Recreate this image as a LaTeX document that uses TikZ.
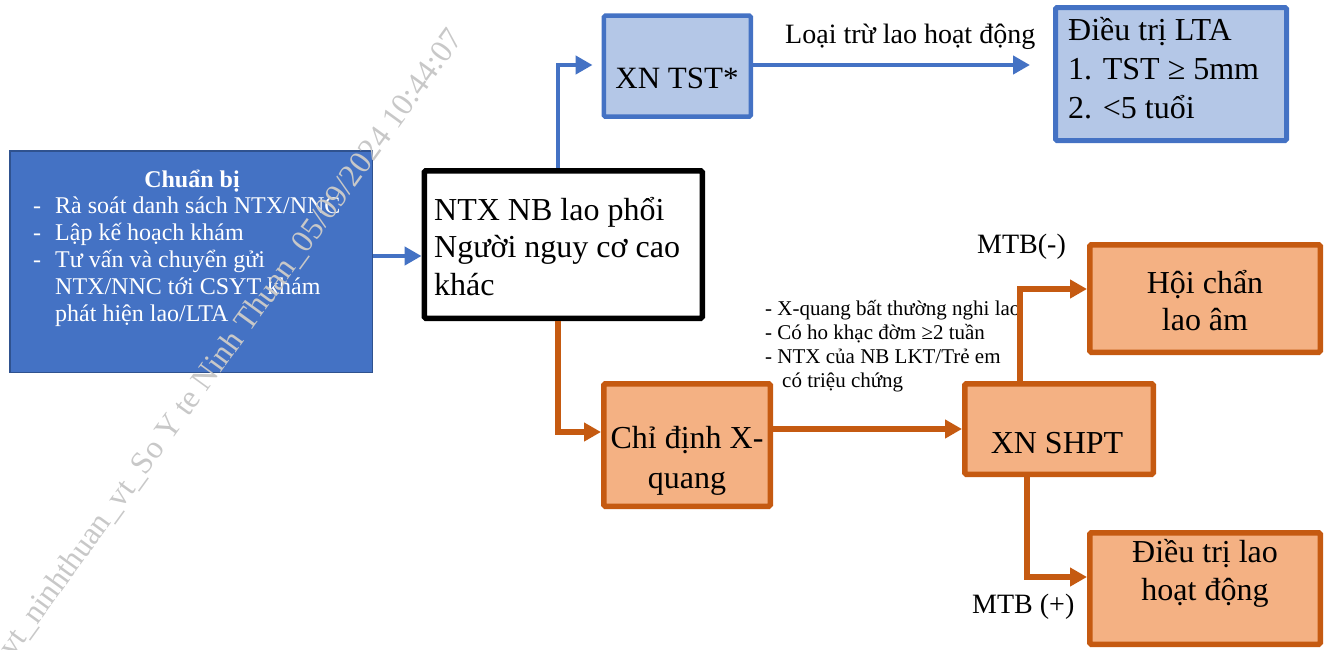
\documentclass[tikz,border=0pt]{standalone}
\usepackage{fontspec}
\setmainfont{Liberation Serif}
\usetikzlibrary{arrows.meta}
\definecolor{cBlue}{HTML}{4472C4}
\definecolor{cBlueDark}{HTML}{2F528F}
\definecolor{cBlueLight}{HTML}{B4C7E7}
\definecolor{cOrange}{HTML}{C55A11}
\definecolor{cOrangeLight}{HTML}{F4B183}
\definecolor{cWater}{HTML}{C8C8C8}
\newcommand{\myfs}[2]{\fontsize{#1}{#2}\selectfont}
\begin{document}
\begin{tikzpicture}[x=1pt,y=-1pt,
  box/.style={rectangle, inner sep=0pt, anchor=center, rounded corners=1.5pt},
  prepbox/.style={box, fill=cBlue, draw=cBlueDark, line width=1.5pt, rounded corners=0pt},
  tstbox/.style={box, fill=cBlueLight, draw=cBlue, line width=4.5pt},
  obox/.style={box, fill=cOrangeLight, draw=cOrange, line width=5.5pt},
  ntxbox/.style={box, fill=white, draw=black, line width=5.5pt},
  txt/.style={inner sep=0pt, anchor=base},
  barrow/.style={draw=cBlue, line width=4.5pt, -{Triangle[length=17pt,width=18pt]}},
  oarrow/.style={draw=cOrange, line width=5.5pt, -{Triangle[length=17pt,width=18pt]}},
  watermark/.style={inner sep=0pt, anchor=base west, rotate=54, text=cWater, font=\myfs{32}{32}}
]
\useasboundingbox (0,0) rectangle (1333,649);

% boxes
\node[prepbox, minimum width=362.5pt, minimum height=221.5pt] (prep) at (191,261.5) {};
\node[ntxbox, minimum width=278pt, minimum height=147.5pt] (ntx) at (563.3,244.5) {};
\node[tstbox, minimum width=147pt, minimum height=101pt] (tst) at (677.3,66.2) {};
\node[tstbox, line width=5pt, minimum width=231pt, minimum height=133pt] (lta) at (1171,74) {};
\node[obox, minimum width=166.5pt, minimum height=122.5pt] (xray) at (687,445) {};
\node[obox, minimum width=188.5pt, minimum height=90.5pt] (shpt) at (1059,429) {};
\node[obox, minimum width=230.5pt, minimum height=107.5pt] (hoichan) at (1205,298.5) {};
\node[obox, minimum width=230.5pt, minimum height=111.5pt] (dtlao) at (1205,588.5) {};

% box texts
\node[txt, text=white, font=\myfs{24}{27}\bfseries] (preptitle) at (192,187) {Chuẩn bị};
\node[txt, anchor=base west, text=white, font=\myfs{24}{27}] (preplist) at (33,213)
  {\begin{tabular}[t]{@{}l@{\hspace{14pt}}l@{}}
   -& Rà soát danh sách NTX/NNC\\
   -& Lập kế hoạch khám\\
   -& Tư vấn và chuyển gửi\\
    & NTX/NNC tới CSYT khám\\
    & phát hiện lao/LTA
   \end{tabular}};
\node[txt, anchor=base west, font=\myfs{32}{37.5}] (ntxt) at (434,220)
  {\begin{tabular}[t]{@{}l@{}}NTX NB lao phổi\\Người nguy cơ cao\\khác\end{tabular}};
\node[txt, font=\myfs{31}{37}] (tstt) at (677,88) {XN TST*};
\node[txt, anchor=base west, font=\myfs{32}{39}] (ltat) at (1068,40)
  {\begin{tabular}[t]{@{}l@{}}Điều trị LTA\\1. TST ≥ 5mm\\2. <5 tuổi\end{tabular}};
\node[txt, font=\myfs{32}{40}] (xrayt) at (687,448)
  {\begin{tabular}[t]{@{}c@{}}Chỉ định X-\\quang\end{tabular}};
\node[txt, font=\myfs{32}{37}] (shptt) at (1057,453) {XN SHPT};
\node[txt, font=\myfs{32}{37}] (hoichant) at (1205,293)
  {\begin{tabular}[t]{@{}c@{}}Hội chẩn\\lao âm\end{tabular}};
\node[txt, font=\myfs{32}{38}] (dtlaot) at (1205,562)
  {\begin{tabular}[t]{@{}c@{}}Điều trị lao\\hoạt động\end{tabular}};

% connector labels
\node[txt, anchor=base west, font=\myfs{28}{32}] (loai) at (785,43) {Loại trừ lao hoạt động};
\node[txt, anchor=base west, font=\myfs{21}{24.3}] (cond) at (765,315)
  {\begin{tabular}[t]{@{}l@{}}- X-quang bất thường nghi lao\\
   - Có ho khạc đờm ≥2 tuần\\
   - NTX của NB LKT/Trẻ em\\
   \hspace{17pt}có triệu chứng\end{tabular}};
\node[txt, anchor=base west, font=\myfs{28}{32}] (mtbneg) at (977,253) {MTB(-)};
\node[txt, anchor=base west, font=\myfs{28}{32}] (mtbpos) at (972,613) {MTB (+)};

% connectors
\coordinate (cA) at (0,256);
\coordinate (cB) at (558,65);
\coordinate (cC) at (558,432);
\coordinate (cD) at (1020,289);
\coordinate (cE) at (1027,577);
\draw[barrow] (prep.east |- cA) -- (ntx.west |- cA);
\draw[barrow, shorten >=9pt] (ntx.north -| cB) |- (tst.west |- cB);
\draw[barrow, shorten >=23pt] (tst.east |- cB) -- (lta.west |- cB);
\draw[oarrow] (ntx.south -| cC) |- (xray.west |- cC);
\draw[oarrow] (xray.east |- shpt.west) -- (shpt.west);
\draw[oarrow] (shpt.north -| cD) |- (hoichan.west |- cD);
\draw[oarrow] (shpt.south -| cE) |- (dtlao.west |- cE);

% watermark
\begin{scope}
\clip (0,0) rectangle (1333,649);
\node[watermark] (wm) at (13,659) {vt\_ninhthuan\_vt\_So Y te Ninh Thuan\_05/09/2024 10:44:07};
\end{scope}
\end{tikzpicture}
\end{document}
